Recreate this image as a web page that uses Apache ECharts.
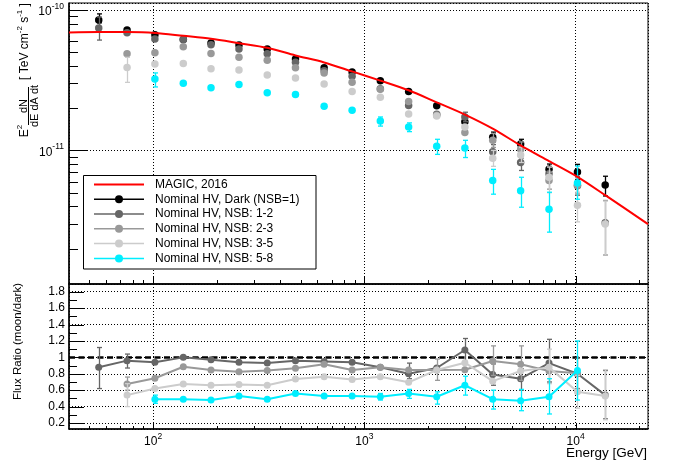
<!DOCTYPE html>
<html><head><meta charset="utf-8">
<script src="https://cdn.jsdelivr.net/npm/echarts@6/dist/echarts.min.js"></script>
<style>html,body{margin:0;padding:0;background:#fff}#c{width:674px;height:465px}</style>
</head><body><div id="c"></div>
<script>
// ---------------- DATA ----------------
const energy = [55.3, 75.3, 102, 139, 188, 255, 347, 472, 645, 875, 1190, 1620, 2200, 2990, 4050, 5490, 7480, 10200, 13800];

const fluxDark = [8.49e-11, 7.21e-11, 6.65e-11, 6.17e-11, 5.81e-11, 5.62e-11, 5.26e-11, 4.47e-11, 3.88e-11, 3.62e-11, 3.13e-11, 2.63e-11, 2.08e-11, 1.60e-11, 1.24e-11, 1.11e-11, 7.33e-12, 7.01e-12, 5.67e-12];
const flux12 = [7.45e-11, 6.88e-11, 6.22e-11, 6.17e-11, 5.64e-11, 5.27e-11, 4.88e-11, 4.24e-11, 3.69e-11, 3.37e-11, 2.75e-11, 2.09e-11, 1.81e-11, 1.73e-11, 9.8e-12, 8.2e-12, 6.82e-12, 5.61e-12, 3.06e-12];
const flux23 = [null, 4.87e-11, 4.95e-11, 5.47e-11, 4.90e-11, 4.60e-11, 4.38e-11, 3.87e-11, 3.55e-11, 3.05e-11, 2.73e-11, 2.23e-11, 1.78e-11, 1.34e-11, 1.18e-11, 1.02e-11, 6.11e-12, 5.64e-12, null];
const flux35 = [null, 3.89e-11, 4.12e-11, 4.15e-11, 3.81e-11, 3.74e-11, 3.44e-11, 3.28e-11, 2.97e-11, 2.63e-11, 2.39e-11, 1.82e-11, 1.76e-11, 1.47e-11, 8.8e-12, 9.26e-12, 6.44e-12, 4.07e-12, 3.0e-12];
const flux58 = [null, null, 3.22e-11, 3.01e-11, 2.79e-11, 2.95e-11, 2.57e-11, 2.50e-11, 2.06e-11, 1.93e-11, 1.62e-11, 1.47e-11, 1.07e-11, 1.04e-11, 6.1e-12, 5.17e-12, 3.81e-12, 5.86e-12, null];

const errDark = [[8.09e-11, 9.37e-11], null, null, null, null, null, null, null, null, null, null, null, null, [1.5e-11, 1.7e-11], [1.15e-11, 1.35e-11], [1.03e-11, 1.2e-11], [6.7e-12, 8.0e-12], [6.2e-12, 7.96e-12], [4.74e-12, 6.55e-12]];
const err12 = [[6.1e-11, 8.9e-11], null, null, null, null, null, null, null, null, null, null, null, null, [1.6e-11, 1.87e-11], [8.6e-12, 1.1e-11], [7.2e-12, 9.2e-12], [6.0e-12, 7.7e-12], [4.8e-12, 6.5e-12], [1.8e-12, 4.4e-12]];
const err23 = [null, null, null, null, null, null, null, null, null, null, null, null, null, null, [1.05e-11, 1.32e-11], [8.8e-12, 1.15e-11], [5.3e-12, 7.0e-12], [4.9e-12, 6.4e-12], null];
const err35 = [null, [3.05e-11, 4.6e-11], null, null, null, null, null, null, null, null, null, null, null, null, [7.7e-12, 1.0e-11], [8.2e-12, 1.05e-11], [5.0e-12, 7.6e-12], [3.1e-12, 5.04e-12], [1.8e-12, 4.37e-12]];
const err58 = [null, null, [2.83e-11, 3.56e-11], null, null, null, null, null, null, null, [1.49e-11, 1.73e-11], [1.36e-11, 1.57e-11], [9.37e-12, 1.2e-11], [8.9e-12, 1.18e-11], [4.88e-12, 7.33e-12], [3.94e-12, 6.44e-12], [2.62e-12, 5.04e-12], [4.49e-12, 7.74e-12], null];

const magicE = [40, 55.3, 75.3, 102, 139, 188, 255, 347, 472, 645, 875, 1190, 1620, 2200, 2990, 4050, 5490, 7480, 10200, 13800, 22000];
const magicF = [6.9e-11, 6.95e-11, 6.95e-11, 6.86e-11, 6.54e-11, 6.23e-11, 5.80e-11, 5.38e-11, 4.74e-11, 4.23e-11, 3.65e-11, 3.14e-11, 2.68e-11, 2.20e-11, 1.80e-11, 1.43e-11, 1.085e-11, 8.39e-12, 6.48e-12, 4.80e-12, 2.99e-12];

const ratio12 = [0.88, 0.96, 0.94, 1.00, 0.97, 0.94, 0.93, 0.96, 0.95, 0.94, 0.88, 0.80, 0.87, 1.09, 0.79, 0.74, 0.93, 0.80, 0.54];
const ratio23 = [null, 0.675, 0.745, 0.886, 0.846, 0.825, 0.84, 0.866, 0.915, 0.846, 0.88, 0.846, 0.846, 0.85, 0.955, 0.915, 0.834, 0.805, null];
const ratio35 = [null, 0.54, 0.62, 0.675, 0.66, 0.67, 0.66, 0.736, 0.765, 0.73, 0.765, 0.696, 0.846, 0.935, 0.71, 0.834, 0.878, 0.58, 0.53];
const ratio58 = [null, null, 0.49, 0.49, 0.48, 0.53, 0.49, 0.56, 0.53, 0.53, 0.52, 0.56, 0.52, 0.66, 0.49, 0.47, 0.52, 0.84, null];

const rErr12 = [[0.62, 1.12], [0.87, 1.04], null, null, null, null, null, null, null, null, null, [0.74, 0.93], null, [0.95, 1.23], [0.66, 0.92], [0.60, 0.86], [0.70, 1.22], [0.62, 0.99], [0.25, 0.84]];
const rErr23 = [null, [0.60, 0.76], null, null, null, null, null, null, null, null, null, null, [0.72, 0.98], null, [0.78, 1.14], [0.72, 1.14], null, null, null];
const rErr35 = [null, [0.40, 0.68], null, null, null, null, null, null, null, null, null, null, null, null, null, null, [0.68, 1.10], [0.38, 0.78], [0.24, 0.85]];
const rErr58 = [null, null, [0.44, 0.54], null, null, null, null, null, null, null, [0.48, 0.56], [0.50, 0.61], [0.43, 0.58], [0.54, 0.77], [0.37, 0.60], [0.35, 0.61], [0.31, 0.74], [0.48, 1.20], null];

const unityRatio = 1;

const seriesNames = ['Nominal HV, Dark (NSB=1)', 'Nominal HV, NSB: 1-2', 'Nominal HV, NSB: 2-3', 'Nominal HV, NSB: 3-5', 'Nominal HV, NSB: 5-8'];
const magicName = 'MAGIC, 2016';

const xMajorTicks = [100, 1000, 10000];
const xMinorTicks = [50, 60, 70, 80, 90, 200, 300, 400, 500, 600, 700, 800, 900, 2000, 3000, 4000, 5000, 6000, 7000, 8000, 9000, 20000];
const yMajorTicks = [1e-11, 1e-10];
const yMinorTicks = [2e-12, 3e-12, 4e-12, 5e-12, 6e-12, 7e-12, 8e-12, 9e-12, 2e-11, 3e-11, 4e-11, 5e-11, 6e-11, 7e-11, 8e-11, 9e-11];
const rMajorTicks = [0.2, 0.4, 0.6, 0.8, 1.0, 1.2, 1.4, 1.6, 1.8];
const rMinorTicks = [0.3, 0.5, 0.7, 0.9, 1.1, 1.3, 1.5, 1.7];

// ---------------- STYLE ----------------
const FONT = "'Liberation Sans', Arial, Helvetica, sans-serif";
const colors = ['#000000', '#666666', '#999999', '#cccccc', '#00eeff'];
const X_MIN = 40, X_MAX = 22000;
const Y_MIN = 1.12e-12, Y_MAX = 1.12e-10;
const R_MIN = 0.127, R_MAX = 1.894;

const chart = echarts.init(document.getElementById('c'), null, {renderer: 'canvas'});

function pairs(xs, ys) {
  const out = [];
  xs.forEach((x, i) => { if (ys[i] != null) out.push([x, ys[i]]); });
  return out;
}
function errData(xs, errs) {
  const out = [];
  xs.forEach((x, i) => { if (errs[i]) out.push([x, errs[i][0], errs[i][1]]); });
  return out;
}
function errSeries(gi, data, color, z) {
  return {
    type: 'custom', xAxisIndex: gi, yAxisIndex: gi, data: data, z: z, silent: true,
    encode: {x: 0, y: [1, 2]},
    renderItem: function (params, api) {
      const x = api.value(0);
      const p1 = api.coord([x, api.value(1)]);
      const p2 = api.coord([x, api.value(2)]);
      const cx = Math.round(p1[0]) + 0.5;
      const st = {stroke: color, lineWidth: 1.3};
      return {type: 'group', children: [
        {type: 'line', shape: {x1: cx, y1: p1[1], x2: cx, y2: p2[1]}, style: st},
        {type: 'line', shape: {x1: cx - 2.5, y1: p1[1], x2: cx + 2.5, y2: p1[1]}, style: st},
        {type: 'line', shape: {x1: cx - 2.5, y1: p2[1], x2: cx + 2.5, y2: p2[1]}, style: st}
      ]};
    }
  };
}
function xTickSeries(gi, vals, yVal, len) {
  return {
    type: 'custom', xAxisIndex: gi, yAxisIndex: gi, silent: true, z: 5,
    data: vals.map(v => [v, yVal]), encode: {x: 0, y: 1},
    renderItem: function (params, api) {
      const p = api.coord([api.value(0), api.value(1)]);
      const x = Math.round(p[0]) + 0.5;
      return {type: 'line', shape: {x1: x, y1: p[1], x2: x, y2: p[1] - len}, style: {stroke: '#000', lineWidth: 1}};
    }
  };
}
function yTickSeries(gi, vals, xVal, len) {
  return {
    type: 'custom', xAxisIndex: gi, yAxisIndex: gi, silent: true, z: 5,
    data: vals.map(v => [xVal, v]), encode: {x: 0, y: 1},
    renderItem: function (params, api) {
      const p = api.coord([api.value(0), api.value(1)]);
      const y = Math.round(p[1]) + 0.5;
      return {type: 'line', shape: {x1: p[0], y1: y, x2: p[0] + len, y2: y}, style: {stroke: '#000', lineWidth: 1}};
    }
  };
}

const supRich = {
  b: {fontSize: 12, fontFamily: FONT, color: '#000', lineHeight: 16, verticalAlign: 'bottom'},
  s: {fontSize: 8.5, fontFamily: FONT, color: '#000', lineHeight: 16, verticalAlign: 'top'}
};
function powLabel(v) {
  const e = Math.round(Math.log10(v));
  return '{b|10}{s|' + e + '}';
}
const dotted = {color: '#000', width: 1, type: [1, 2]};

const fluxes = [fluxDark, flux12, flux23, flux35, flux58];
const fluxErrs = [errDark, err12, err23, err35, err58];
const ratios = [ratio12, ratio23, ratio35, ratio58];
const ratioErrs = [rErr12, rErr23, rErr35, rErr58];

const series = [];
// top panel points
fluxes.forEach((f, k) => {
  series.push(errSeries(0, errData(energy, fluxErrs[k]), colors[k], 3 + k));
  series.push({
    name: seriesNames[k], type: 'line', xAxisIndex: 0, yAxisIndex: 0, z: 3 + k,
    data: pairs(energy, f), symbol: 'circle', symbolSize: 7.5, showSymbol: true,
    color: colors[k], itemStyle: {color: colors[k]},
    lineStyle: {width: 1.5, opacity: 0}, animation: false, silent: true
  });
});
series.push({
  name: magicName, type: 'line', xAxisIndex: 0, yAxisIndex: 0, z: 9,
  data: pairs(magicE, magicF), symbol: 'none', smooth: 0.3, color: '#ff0000',
  lineStyle: {color: '#ff0000', width: 2}, silent: true
});
// bottom panel ratios
ratios.forEach((r, k) => {
  const c = colors[k + 1];
  series.push(errSeries(1, errData(energy, ratioErrs[k]), c, 3 + k));
  const s = {
    name: 'ratio ' + seriesNames[k + 1], type: 'line', xAxisIndex: 1, yAxisIndex: 1, z: 3 + k,
    data: pairs(energy, r), symbol: 'circle', symbolSize: 7, showSymbol: true,
    color: c, itemStyle: {color: c}, lineStyle: {color: c, width: 2}, silent: true
  };
  if (k === 0) {
    s.markLine = {silent: true, symbol: ['none', 'none'], label: {show: false}, z: 2,
      lineStyle: {color: '#000', width: 2.5, type: [6, 3.5]}, data: [{yAxis: unityRatio}]};
  }
  series.push(s);
});
// ticks
series.push(xTickSeries(0, xMinorTicks, Y_MIN, 4));
series.push(xTickSeries(0, xMajorTicks, Y_MIN, 8));
series.push(xTickSeries(1, xMinorTicks, R_MIN, 3));
series.push(xTickSeries(1, xMajorTicks, R_MIN, 6));
series.push(yTickSeries(0, yMinorTicks, X_MIN, 9));
series.push(yTickSeries(0, yMajorTicks, X_MIN, 19));
series.push(yTickSeries(1, rMinorTicks, X_MIN, 8));
series.push(yTickSeries(1, rMajorTicks, X_MIN, 15));

const option = {
  animation: false,
  backgroundColor: '#ffffff',
  grid: [
    {left: 69, top: 3, width: 579, height: 281, show: true, borderColor: '#000', borderWidth: 1, containLabel: false},
    {left: 69, top: 284, width: 579, height: 145, show: true, borderColor: '#000', borderWidth: 1, containLabel: false}
  ],
  xAxis: [
    {gridIndex: 0, type: 'log', logBase: 10, min: X_MIN, max: X_MAX,
      axisLine: {show: true, lineStyle: {color: '#000', width: 1.5}}, axisTick: {show: false},
      axisLabel: {show: false}, splitLine: {show: true, lineStyle: dotted}},
    {gridIndex: 1, type: 'log', logBase: 10, min: X_MIN, max: X_MAX,
      axisLine: {show: true, lineStyle: {color: '#000', width: 1.5}}, axisTick: {show: false},
      axisLabel: {show: true, margin: 3, showMinLabel: false, showMaxLabel: false, formatter: powLabel, rich: supRich},
      splitLine: {show: true, lineStyle: dotted}}
  ],
  yAxis: [
    {gridIndex: 0, type: 'log', logBase: 10, min: Y_MIN, max: Y_MAX,
      axisLine: {show: true, lineStyle: {color: '#000', width: 1.5}}, axisTick: {show: false},
      axisLabel: {show: true, margin: 5, showMinLabel: false, showMaxLabel: false, formatter: powLabel, rich: supRich},
      splitLine: {show: true, lineStyle: dotted}},
    {gridIndex: 1, type: 'value', min: R_MIN, max: R_MAX, splitNumber: 9, minInterval: 0.2, maxInterval: 0.2,
      axisLine: {show: true, lineStyle: {color: '#000', width: 1.5}}, axisTick: {show: false},
      axisLabel: {show: true, margin: 4, showMinLabel: false, showMaxLabel: false,
        fontSize: 12, fontFamily: FONT, color: '#000'},
      splitLine: {show: true, lineStyle: dotted}}
  ],
  legend: {
    left: 93, top: 177, orient: 'vertical', padding: 0, itemGap: 0, itemWidth: 50, itemHeight: 10,
    selectedMode: false, z: 6,
    textStyle: {fontSize: 12, fontFamily: FONT, color: '#000', lineHeight: 14.8, padding: [0, 0, 0, 6]},
    lineStyle: {width: 1.5, opacity: 1},
    data: [{name: magicName, itemStyle: {opacity: 0}, lineStyle: {width: 2}}].concat(seriesNames)
  },
  graphic: [
    {type: 'rect', z: 5, shape: {x: 83.5, y: 175.5, width: 232.5, height: 93.5},
      style: {fill: '#ffffff', stroke: '#000', lineWidth: 1}},
    {type: 'text', z: 6, x: 647, y: 453, style: {text: 'Energy [GeV]', font: '13.5px ' + FONT, fill: '#000', align: 'right', verticalAlign: 'middle'}},
    {type: 'text', z: 6, x: 17.5, y: 341.5, rotation: Math.PI / 2,
      style: {text: 'Flux Ratio (moon/dark)', font: '11.5px ' + FONT, fill: '#000', align: 'center', verticalAlign: 'middle'}},
    {type: 'text', z: 6, x: 23, y: 41.5, rotation: Math.PI / 2,
      style: {text: '{b|[ TeV cm}{s|-2}{b| s}{s|-1}{b| ]}', align: 'center', verticalAlign: 'middle',
        rich: {b: {font: '12px ' + FONT, fill: '#000', lineHeight: 15, verticalAlign: 'bottom'},
               s: {font: '8px ' + FONT, fill: '#000', lineHeight: 15, verticalAlign: 'top'}}}},
    {type: 'text', z: 6, x: 23.5, y: 106, rotation: Math.PI / 2,
      style: {text: 'dN', font: '11px ' + FONT, fill: '#000', align: 'center', verticalAlign: 'middle'}},
    {type: 'line', z: 6, shape: {x1: 28.5, y1: 87, x2: 28.5, y2: 125}, style: {stroke: '#000', lineWidth: 1}},
    {type: 'text', z: 6, x: 34.5, y: 106, rotation: Math.PI / 2,
      style: {text: 'dE dA dt', font: '11px ' + FONT, fill: '#000', align: 'center', verticalAlign: 'middle'}},
    {type: 'text', z: 6, x: 23, y: 131, rotation: Math.PI / 2,
      style: {text: '{b|E}{s|2}', align: 'center', verticalAlign: 'middle',
        rich: {b: {font: '12px ' + FONT, fill: '#000', lineHeight: 15, verticalAlign: 'bottom'},
               s: {font: '8px ' + FONT, fill: '#000', lineHeight: 15, verticalAlign: 'top'}}}}
  ],
  series: series
};
chart.setOption(option);
</script>
</body></html>
